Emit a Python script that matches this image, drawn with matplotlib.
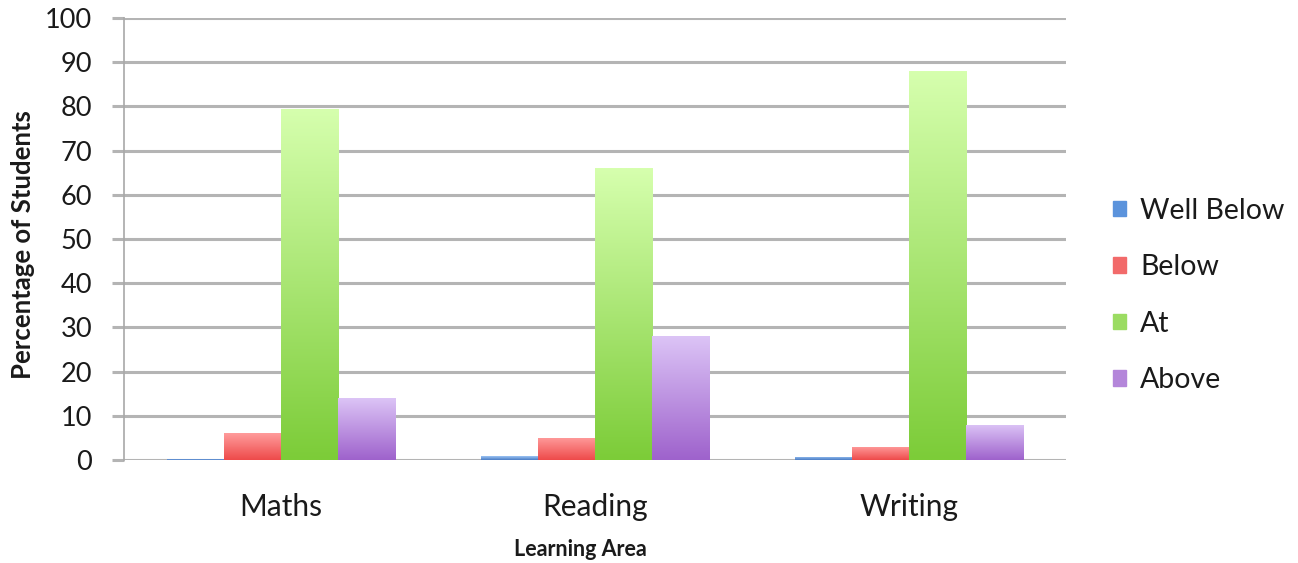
import matplotlib.pyplot as plt
import numpy as np
from matplotlib.colors import LinearSegmentedColormap
import matplotlib.patches as mpatches

areas = ['Maths', 'Reading', 'Writing']
levels = ['Well Below', 'Below', 'At', 'Above']
well_below = [0.3, 0.8, 0.7]
below = [6, 5, 3]
at = [79.5, 66, 88]
above = [14, 28, 8]
series = [well_below, below, at, above]

# top colour, bottom colour, legend colour
grad = [('#9cc4f4', '#4a7cc4', '#5b93dc'),
        ('#ff9c9c', '#ee4a4a', '#f26a6a'),
        ('#d6ffae', '#7ccc38', '#9bdc62'),
        ('#dcc4f6', '#9e62cc', '#b486da')]

plt.rcParams['font.family'] = ['Lato', 'DejaVu Sans']
plt.rcParams['text.color'] = '#1a1a1a'
plt.rcParams['xtick.labelcolor'] = '#1a1a1a'
plt.rcParams['ytick.labelcolor'] = '#1a1a1a'

fig = plt.figure(figsize=(12.98, 5.63), dpi=100)
ax = fig.add_axes([124 / 1298, 103 / 563, 942 / 1298, 442 / 563])

x = np.arange(len(areas))
w = 0.182
for i, vals in enumerate(series):
    top, bot, _ = grad[i]
    cmap = LinearSegmentedColormap.from_list('g%d' % i, [bot, top])
    bars = ax.bar(x + (i - 1.5) * w, vals, w, color='none', edgecolor='none', zorder=3)
    for b in bars:
        x0, y0 = b.get_x(), b.get_y()
        h = b.get_height()
        img = ax.imshow(np.linspace(0, 1, 256).reshape(-1, 1), cmap=cmap, origin='lower',
                        extent=[x0, x0 + b.get_width(), y0, y0 + h],
                        aspect='auto', zorder=3)
        img.set_clip_path(b)

ax.set_xlim(-0.5, 2.5)
ax.set_ylim(0, 100)
ax.set_yticks(range(0, 101, 10))
ax.set_xticks(x)
ax.set_xticklabels(areas)
ax.yaxis.grid(True, color='#b4b4b4', linewidth=2.2, zorder=0)
ax.set_axisbelow(True)
for s in ['top', 'right', 'bottom']:
    ax.spines[s].set_visible(False)
ax.spines['left'].set_color('#a8a8a8')
ax.spines['left'].set_linewidth(1.2)
ax.tick_params(axis='y', length=9, width=2.2, color='#b4b4b4', labelsize=19.5, pad=14)
ax.tick_params(axis='x', length=0, labelsize=21.5, pad=24)

fig.text(580 / 1298, 1 - 550 / 563, 'Learning Area', fontsize=15.5, fontweight='bold',
         ha='center', va='center')
fig.text(23 / 1298, 1 - 245 / 563, 'Percentage of Students', fontsize=18.5, fontweight='bold',
         rotation=90, ha='center', va='center')

handles = [mpatches.Patch(color=g[2], label=l) for g, l in zip(grad, levels)]
fig.legend(handles=handles, loc='center left', bbox_to_anchor=(1113 / 1298, 1 - 295.5 / 563),
           frameon=False, fontsize=20.5, handlelength=0.45, handleheight=0.45,
           handletextpad=0.5, labelspacing=1.07, borderpad=0, borderaxespad=0)

fig.savefig('out.png', dpi=100)
